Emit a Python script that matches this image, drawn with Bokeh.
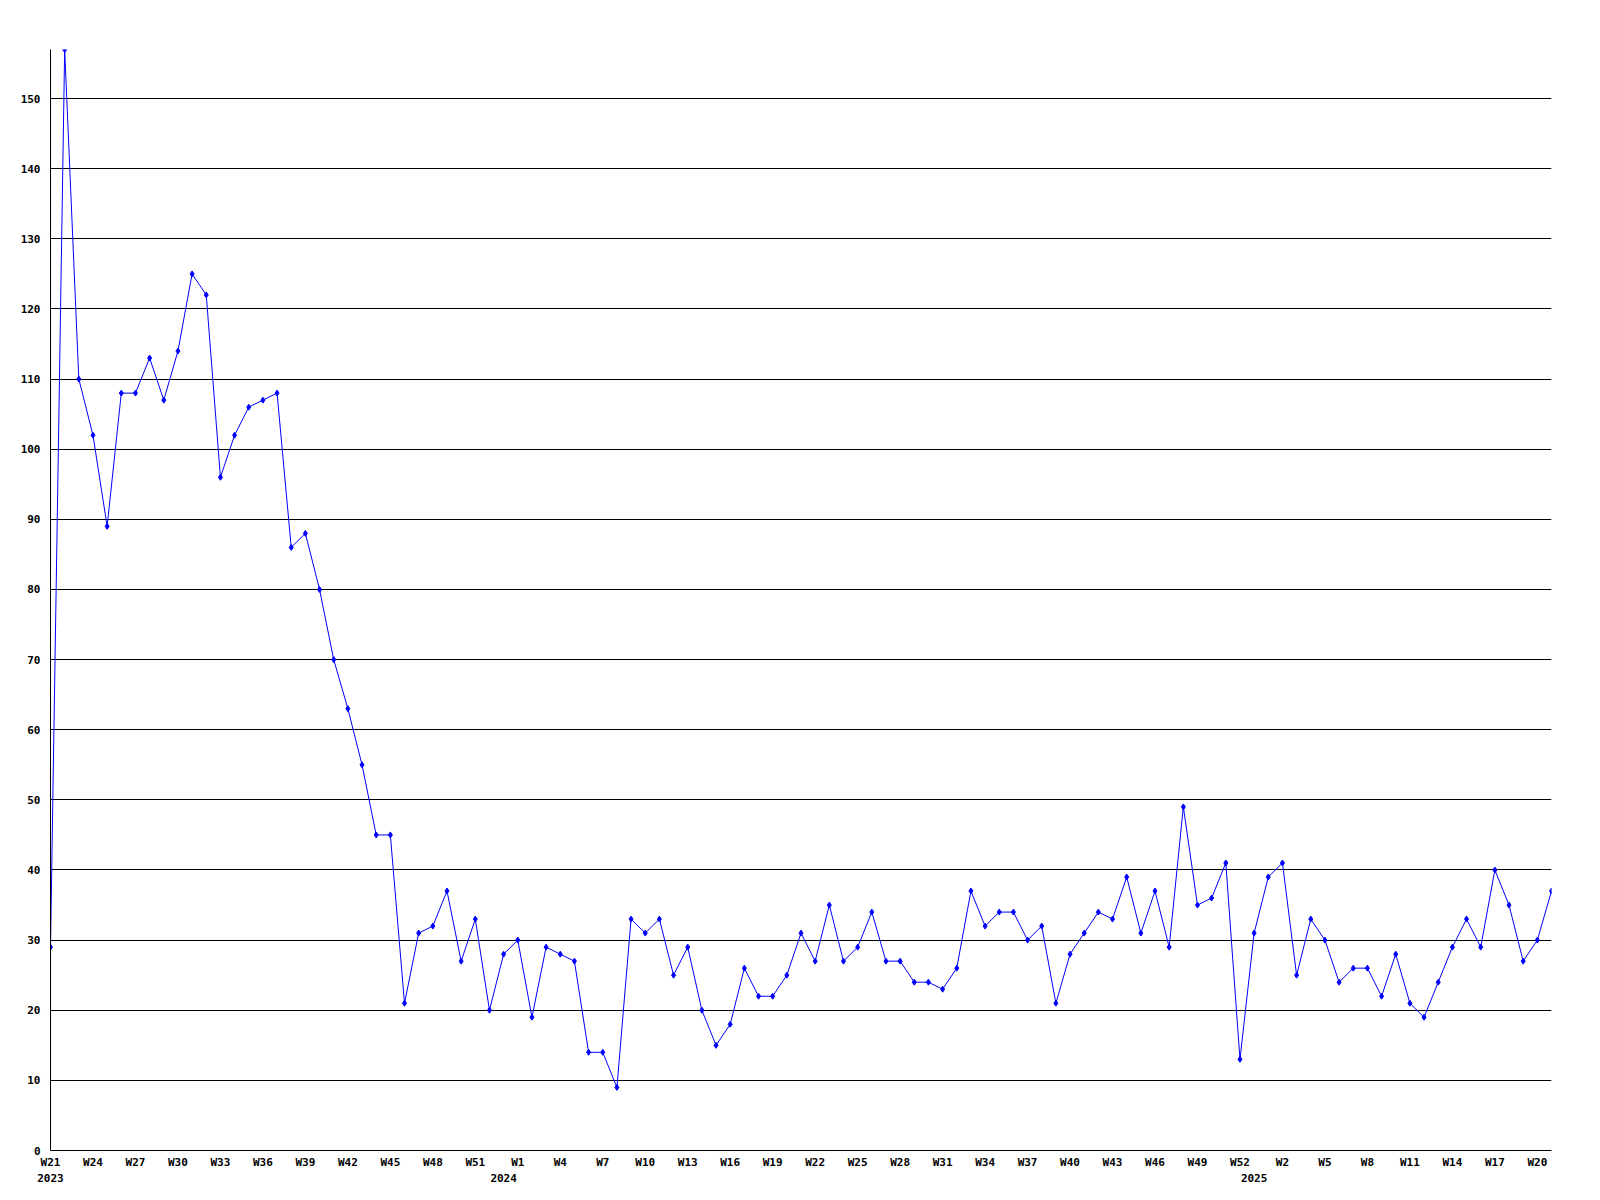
from bokeh.plotting import figure
from bokeh.models import Range1d, FixedTicker, LinearAxis
from bokeh.embed import file_html
from bokeh.resources import INLINE

# weekly values, W21 2023 .. W21 2025
values = [29, 157, 110, 102, 89, 108, 108, 113, 107, 114,
          125, 122, 96, 102, 106, 107, 108, 86, 88, 80,
          70, 63, 55, 45, 45, 21, 31, 32, 37, 27,
          33, 20, 28, 30, 19, 29, 28, 27, 14, 14,
          9, 33, 31, 33, 25, 29, 20, 15, 18, 26,
          22, 22, 25, 31, 27, 35, 27, 29, 34, 27,
          27, 24, 24, 23, 26, 37, 32, 34, 34, 30,
          32, 21, 28, 31, 34, 33, 39, 31, 37, 29,
          49, 35, 36, 41, 13, 31, 39, 41, 25, 33,
          30, 24, 26, 26, 22, 28, 21, 19, 24, 29,
          33, 29, 40, 35, 27, 30, 37]

week_labels = ["W21", "W24", "W27", "W30", "W33", "W36", "W39", "W42", "W45",
               "W48", "W51", "W1", "W4", "W7", "W10", "W13", "W16", "W19",
               "W22", "W25", "W28", "W31", "W34", "W37", "W40", "W43", "W46",
               "W49", "W52", "W2", "W5", "W8", "W11", "W14", "W17", "W20"]
week_index = list(range(0, 106, 3))

year_labels = ["2023", "2024", "2025"]
year_index = [0, 32, 85]

y_ticks = list(range(0, 151, 10))

xs = list(range(len(values)))

FONT = "DejaVu Sans Mono"

p = figure(width=1581, height=1190,
           x_range=Range1d(0, len(values) - 1), y_range=Range1d(0, 157),
           output_backend="svg", toolbar_location=None,
           min_border_left=50, min_border_right=30,
           min_border_top=49, min_border_bottom=40)
p.outline_line_color = None
p.background_fill_color = "white"
p.border_fill_color = "white"

p.xgrid.visible = False
p.ygrid.ticker = FixedTicker(ticks=y_ticks)
p.ygrid.grid_line_color = "black"
p.ygrid.grid_line_width = 1
p.ygrid.grid_line_alpha = 1.0

for ax in (p.xaxis[0], p.yaxis[0]):
    ax.axis_line_color = "black"
    ax.axis_line_width = 1
    ax.major_tick_line_color = None
    ax.minor_tick_line_color = None
    ax.major_tick_out = 0
    ax.major_tick_in = 0
    ax.major_label_text_font = FONT
    ax.major_label_text_font_style = "bold"
    ax.major_label_text_font_size = "11px"
    ax.major_label_text_color = "black"

p.yaxis[0].ticker = FixedTicker(ticks=y_ticks)
p.yaxis[0].major_label_standoff = 10

p.xaxis[0].ticker = FixedTicker(ticks=week_index)
p.xaxis[0].major_label_overrides = {i: l for i, l in zip(week_index, week_labels)}
p.xaxis[0].major_label_standoff = 5

year_axis = LinearAxis(ticker=FixedTicker(ticks=year_index),
                       major_label_overrides={i: l for i, l in zip(year_index, year_labels)},
                       axis_line_color=None, major_tick_line_color=None,
                       minor_tick_line_color=None, major_tick_out=0, major_tick_in=0,
                       major_label_standoff=2,
                       major_label_text_font=FONT, major_label_text_font_style="bold",
                       major_label_text_font_size="11px", major_label_text_color="black")
p.add_layout(year_axis, "below")

p.line(xs, values, line_color="#0000ff", line_width=1)
p.scatter(xs, values, marker="diamond", size=6, fill_color="#0000ff",
          line_color="#0000ff", line_width=1)

open("out.html", "w").write(file_html(p, INLINE))
